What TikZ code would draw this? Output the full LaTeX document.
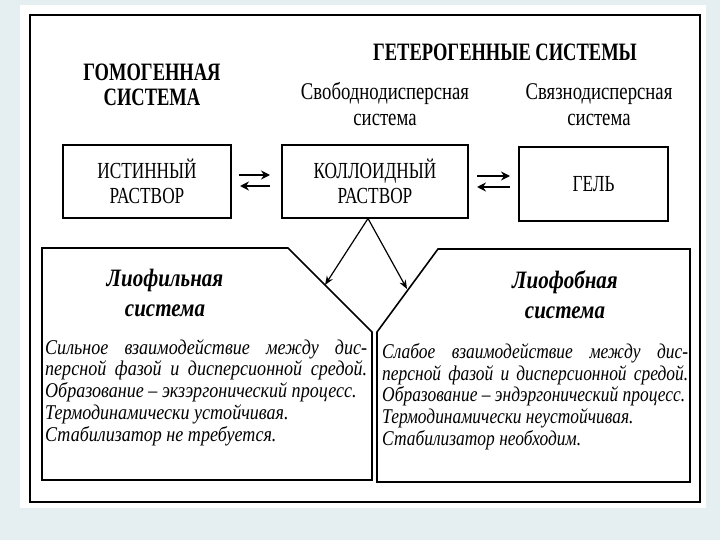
\documentclass[tikz,border=0pt]{standalone}
\usepackage{fontspec}
\setmainfont{Liberation Serif}
\newfontfamily\condA[FakeStretch=0.74]{Liberation Serif}
\newfontfamily\condB[FakeStretch=0.75]{Liberation Serif}
\newfontfamily\condC[FakeStretch=0.78]{Liberation Serif}
\newfontfamily\condD[FakeStretch=0.84]{Liberation Serif}
\newfontfamily\condE[FakeStretch=0.86]{Liberation Serif}
\newfontfamily\condF[FakeStretch=0.83]{Liberation Serif}
\usetikzlibrary{arrows.meta}
\definecolor{slidebg}{HTML}{E5EEF0}
\tikzset{
  box/.style={draw, line width=1.6pt, inner sep=0pt, align=center, font=\condB\fontsize{23}{25}\selectfont},
  head/.style={font=\condA\bfseries\fontsize{25}{25}\selectfont, align=center, inner sep=0pt},
  sub/.style={font=\condC\fontsize{24}{26}\selectfont, align=center, inner sep=0pt},
  ttl/.style={font=\condD\bfseries\itshape\fontsize{25}{30}\selectfont, align=center, inner sep=0pt},
  body/.style={align=justify, inner sep=0pt, anchor=north west},
  eq/.style={line width=2.8pt, -{Stealth[length=9pt,width=9pt]}},
  pent/.style={line width=1.6pt, line join=miter},
  con/.style={line width=1.2pt, -{Stealth[length=9pt,width=7pt]}}
}
\begin{document}
\begin{tikzpicture}[x=1pt,y=-1pt]
\useasboundingbox (0,0) rectangle (720,540);
\fill[slidebg] (0,0) rectangle (720,540);
\fill[white] (20,5) rectangle (706,508);
\draw[line width=1.6pt] (30,15) rectangle (700,502);

\node[head] (hom) at (152,85) {ГОМОГЕННАЯ\\СИСТЕМА};
\node[head] (het) at (505,52) {ГЕТЕРОГЕННЫЕ СИСТЕМЫ};
\node[sub] (free) at (385,104) {Свободнодисперсная\\система};
\node[sub] (bound) at (599,105) {Связнодисперсная\\система};

\node[box, minimum width=168pt, minimum height=73pt] (true) at (147,181.5) {ИСТИННЫЙ\\РАСТВОР};
\node[box, minimum width=186pt, minimum height=73pt] (kol) at (375,181.5) {КОЛЛОИДНЫЙ\\РАСТВОР};
\node[box, minimum width=149pt, minimum height=74pt] (gel) at (593.5,184) {ГЕЛЬ};

\coordinate (e1a) at (239,175); \coordinate (e1b) at (270,175);
\coordinate (e1c) at (270,186); \coordinate (e1d) at (240,186);
\draw[eq] (e1a) -- (e1b);
\draw[eq] (e1c) -- (e1d);
\coordinate (e2a) at (477,176); \coordinate (e2b) at (510,176);
\coordinate (e2c) at (510,187); \coordinate (e2d) at (477,187);
\draw[eq] (e2a) -- (e2b);
\draw[eq] (e2c) -- (e2d);

\draw[pent] (42,248) -- (288,248) -- (372,332) -- (372,480) -- (42,480) -- cycle;
\draw[pent] (438,249) -- (690,249) -- (690,482) -- (377,482) -- (377,332) -- cycle;

\coordinate (apex) at (368,218.5);
\coordinate (lt) at (325,285);
\coordinate (rt) at (407,289);
\draw[con] (apex) -- (lt);
\draw[con] (apex) -- (rt);

\node[ttl] (lyo) at (165,293) {Лиофильная\\система};
\node[ttl] (lyf) at (565,295) {Лиофобная\\система};

\node[body, text width=322pt, font=\condE\itshape\fontsize{21}{21.8}\selectfont] (lbody) at (45,339) {\parindent=0pt Сильное взаимодействие между дис-\linebreak персной фазой и дисперсионной средой.\linebreak Образование – экзэргонический процесс.\newline Термодинамически устойчивая.\newline Стабилизатор не требуется.};
\node[body, text width=306pt, font=\condF\itshape\fontsize{21}{21.8}\selectfont] (rbody) at (382,343) {\parindent=0pt Слабое взаимодействие между дис-\linebreak персной фазой и дисперсионной средой.\linebreak Образование – эндэргонический процесс.\newline Термодинамически неустойчивая.\newline Стабилизатор необходим.};
\end{tikzpicture}
\end{document}
